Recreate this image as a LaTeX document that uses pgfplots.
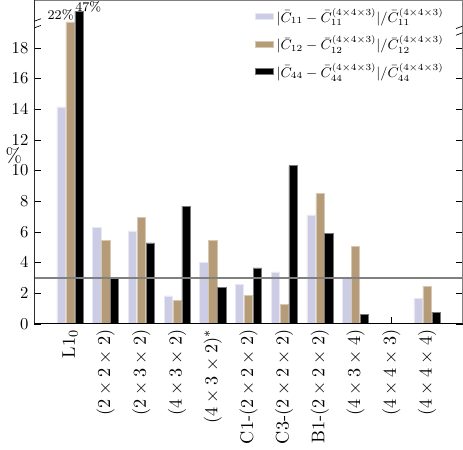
\documentclass[border=0pt]{standalone}
\usepackage{pgfplots}
\pgfplotsset{compat=1.18}
\definecolor{cA}{RGB}{204,204,228}
\definecolor{cAe}{RGB}{232,232,244}
\definecolor{cB}{RGB}{181,155,120}
\definecolor{cBe}{RGB}{215,200,178}
\definecolor{cCe}{RGB}{120,120,120}
\begin{document}
\begin{tikzpicture}
\begin{axis}[
  width=257pt, height=194pt, scale only axis,
  xmin=-1, xmax=11, ymin=0, ymax=21.1,
  xtick={0,...,10}, xtick pos=bottom,
  xticklabels={L1$_0$, $(2\times2\times2)$, $(2\times3\times2)$, $(4\times3\times2)$, $(4\times3\times2)^*$, C1-$(2\times2\times2)$, C3-$(2\times2\times2)$, B1-$(2\times2\times2)$, $(4\times3\times4)$, $(4\times4\times3)$, $(4\times4\times4)$},
  xticklabel style={rotate=90, anchor=east, font=\fontsize{10.95}{13}\selectfont},
  ytick={0,2,...,18},
  ylabel={\large\%}, ylabel style={rotate=-90, at={(axis description cs:-0.048,0.52)}, anchor=center},
  axis line style={gray},
  tick style={black},
  bar width=0.23,
  legend style={at={(rel axis cs:0.975,0.997)}, anchor=north east, draw=none, fill=white, row sep=3pt, font=\small, nodes={scale=0.93, transform shape}},
  legend cell align=left,
  legend image code/.code={\draw[#1] (0cm,-0.06cm) rectangle (0.38cm,0.06cm);},
]
\addplot[ybar, fill=cA, draw=cAe, line width=0.3pt, bar shift=-0.25] coordinates {
(0,14.15) (1,6.28) (2,6.05) (3,1.81) (4,4.02) (5,2.59) (6,3.38) (7,7.1) (8,3.03) (9,0) (10,1.66)};
\addlegendentry{$|\bar{C}_{11}-\bar{C}_{11}^{(4\times4\times3)}|/\bar{C}_{11}^{(4\times4\times3)}$}
\addplot[ybar, fill=cB, draw=cBe, line width=0.3pt, bar shift=0] coordinates {
(0,19.7) (1,5.44) (2,6.96) (3,1.50) (4,5.42) (5,1.84) (6,1.26) (7,8.49) (8,5.04) (9,0) (10,2.45)};
\addlegendentry{$|\bar{C}_{12}-\bar{C}_{12}^{(4\times4\times3)}|/\bar{C}_{12}^{(4\times4\times3)}$}
\addplot[ybar, fill=black, draw=cCe, line width=0.3pt, bar shift=0.25] coordinates {
(0,20.4) (1,2.96) (2,5.28) (3,7.67) (4,2.36) (5,3.65) (6,10.32) (7,5.9) (8,0.6) (9,0) (10,0.75)};
\addlegendentry{$|\bar{C}_{44}-\bar{C}_{44}^{(4\times4\times3)}|/\bar{C}_{44}^{(4\times4\times3)}$}
\addplot[gray, line width=1pt, forget plot] coordinates {(-1,3) (11,3)};
\draw[black] (rel axis cs:0,0) -- (rel axis cs:0,1);
\draw[black] (rel axis cs:0,0) -- (rel axis cs:1,0);
\node[anchor=south east, inner sep=0.3pt, font=\footnotesize] at (axis cs:0.125,19.75) {22\%};
\node[anchor=south west, inner sep=0.3pt, font=\footnotesize] at (axis cs:0.125,20.3) {47\%};
\draw[black] ([xshift=-4pt,yshift=-3.5pt]rel axis cs:0,0.925) -- ([xshift=4pt,yshift=-0.5pt]rel axis cs:0,0.925);
\draw[black] ([xshift=-4pt,yshift=0.5pt]rel axis cs:0,0.925) -- ([xshift=4pt,yshift=3.5pt]rel axis cs:0,0.925);
\draw[black] ([xshift=-4pt,yshift=-3.5pt]rel axis cs:1,0.91) -- ([xshift=4pt,yshift=-0.5pt]rel axis cs:1,0.91);
\draw[black] ([xshift=-4pt,yshift=0.5pt]rel axis cs:1,0.91) -- ([xshift=4pt,yshift=3.5pt]rel axis cs:1,0.91);
\end{axis}
\end{tikzpicture}
\end{document}
